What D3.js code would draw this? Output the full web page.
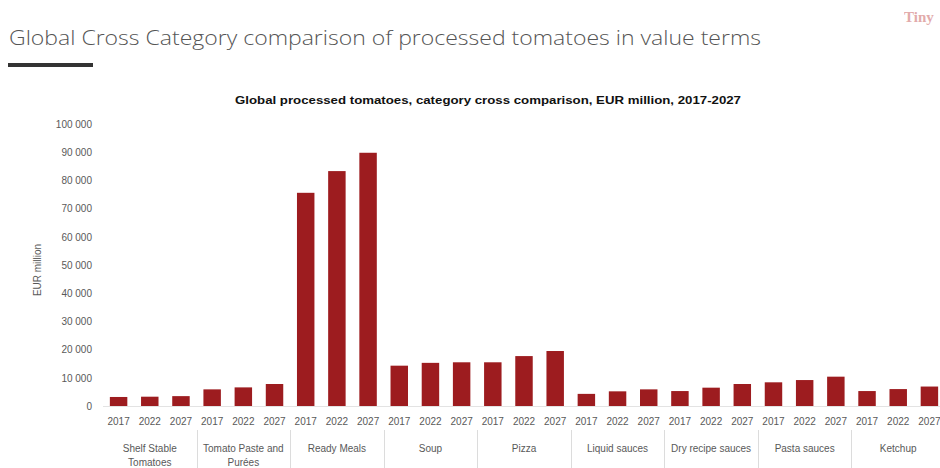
<!DOCTYPE html>
<html>
<head>
<meta charset="utf-8">
<script src="https://cdn.jsdelivr.net/npm/d3@7"></script>
<style>
  html, body { margin: 0; padding: 0; background: #fff; }
  svg { display: block; }
</style>
</head>
<body>
<svg id="chart" width="940" height="468"></svg>
<script>
// Categories (some labels wrap onto two lines)
const categories = [
  ["Shelf Stable", "Tomatoes"],
  ["Tomato Paste and", "Purées"],
  ["Ready Meals"],
  ["Soup"],
  ["Pizza"],
  ["Liquid sauces"],
  ["Dry recipe sauces"],
  ["Pasta sauces"],
  ["Ketchup"]
];
const years = ["2017", "2022", "2027"];

// EUR million per category, in year order 2017, 2022, 2027
const values2017 = [3200, 5900, 75600, 14300, 15500, 4300, 5300, 8400, 5300];
const values2022 = [3300, 6600, 83300, 15300, 17700, 5200, 6500, 9200, 6000];
const values2027 = [3500, 7800, 89800, 15500, 19500, 5900, 7800, 10400, 6900];

const yTicks = [0, 10000, 20000, 30000, 40000, 50000, 60000, 70000, 80000, 90000, 100000];

const pageTitle = "Global Cross Category comparison of processed tomatoes in value terms";
const chartTitle = "Global processed tomatoes, category cross comparison, EUR million, 2017-2027";
const yAxisTitle = "EUR million";

// Flatten into one bar per category/year
const series = [values2017, values2022, values2027];
const bars = [];
categories.forEach((c, ci) => {
  years.forEach((yr, yi) => {
    bars.push({ key: ci + "-" + yr, cat: ci, year: yr, value: series[yi][ci] });
  });
});

const svg = d3.select("#chart");
const BAR = "#9d1c1f";
const TEXT = "#595959";
const FONT = "'Liberation Sans', Arial, sans-serif";

// Slide heading
svg.append("text")
  .attr("x", 9).attr("y", 45)
  .attr("font-family", "'Open Sans', sans-serif")
  .attr("font-weight", 300)
  .attr("font-size", 21)
  .attr("fill", "#555")
  .attr("textLength", 752)
  .attr("lengthAdjust", "spacingAndGlyphs")
  .text(pageTitle);

svg.append("rect")
  .attr("x", 8).attr("y", 63).attr("width", 85).attr("height", 4)
  .attr("fill", "#333");

// Logo mark in the corner
svg.append("text")
  .attr("x", 904).attr("y", 22)
  .attr("font-family", "'Liberation Serif', serif")
  .attr("font-weight", "bold")
  .attr("font-size", 15)
  .attr("fill", "#d98f8f")
  .attr("opacity", 0.75)
  .text("Tiny");

// Chart title
svg.append("text")
  .attr("x", 488).attr("y", 104)
  .attr("text-anchor", "middle")
  .attr("font-family", FONT)
  .attr("font-weight", "bold")
  .attr("font-size", 11)
  .attr("fill", "#111")
  .attr("textLength", 506)
  .attr("lengthAdjust", "spacingAndGlyphs")
  .text(chartTitle);

// Scales
const x = d3.scaleBand()
  .domain(bars.map(d => d.key))
  .range([103, 945])
  .paddingInner(0.44)
  .paddingOuter(0.22);

const y = d3.scaleLinear().domain([0, 100000]).range([406, 124]);

const fmt = d3.formatLocale({ decimal: ".", thousands: " ", grouping: [3], currency: ["", ""] }).format(",");

// Y axis
const yAxis = svg.append("g")
  .attr("transform", "translate(92,0)")
  .call(d3.axisLeft(y).tickValues(yTicks).tickFormat(fmt).tickSize(0).tickPadding(0));
yAxis.select(".domain").remove();
yAxis.selectAll("text")
  .attr("font-family", FONT)
  .attr("font-size", 10)
  .attr("fill", TEXT);

svg.append("text")
  .attr("transform", "translate(41,270) rotate(-90)")
  .attr("text-anchor", "middle")
  .attr("font-family", FONT)
  .attr("font-size", 10)
  .attr("fill", TEXT)
  .text(yAxisTitle);

// Baseline
svg.append("line")
  .attr("x1", 103).attr("x2", 945)
  .attr("y1", y(0) + 0.5).attr("y2", y(0) + 0.5)
  .attr("stroke", "#e3e3e3");

// Bars
svg.append("g").selectAll("rect")
  .data(bars)
  .join("rect")
  .attr("x", d => x(d.key))
  .attr("y", d => y(d.value))
  .attr("width", x.bandwidth())
  .attr("height", d => y(0) - y(d.value))
  .attr("fill", BAR);

// Year labels under each bar
const xAxis = svg.append("g")
  .attr("transform", "translate(0," + (y(0)) + ")")
  .call(d3.axisBottom(x).tickSize(0).tickPadding(12).tickFormat(k => k.split("-")[1]));
xAxis.select(".domain").remove();
xAxis.selectAll("text")
  .attr("font-family", FONT)
  .attr("font-size", 10)
  .attr("fill", TEXT);

// Category group labels and separators
const step = x.step();
const groupLeft = ci => x(ci + "-2017") - step * x.paddingInner() / 2;
const groupCenter = ci => x(ci + "-2022") + x.bandwidth() / 2;

svg.append("g").selectAll("line")
  .data(categories.slice(1).map((c, i) => i + 1))
  .join("line")
  .attr("x1", d => Math.round(groupLeft(d)) + 0.5)
  .attr("x2", d => Math.round(groupLeft(d)) + 0.5)
  .attr("y1", 430).attr("y2", 468)
  .attr("stroke", "#dcdcdc");

const groupLabels = svg.append("g").selectAll("text")
  .data(categories)
  .join("text")
  .attr("x", (d, i) => groupCenter(i))
  .attr("y", 452)
  .attr("text-anchor", "middle")
  .attr("font-family", FONT)
  .attr("font-size", 10)
  .attr("fill", TEXT);
groupLabels.selectAll("tspan")
  .data(d => d)
  .join("tspan")
  .attr("x", function () { return this.parentNode.getAttribute("x"); })
  .attr("dy", (d, i) => i === 0 ? 0 : 14)
  .text(d => d);
</script>
</body>
</html>
